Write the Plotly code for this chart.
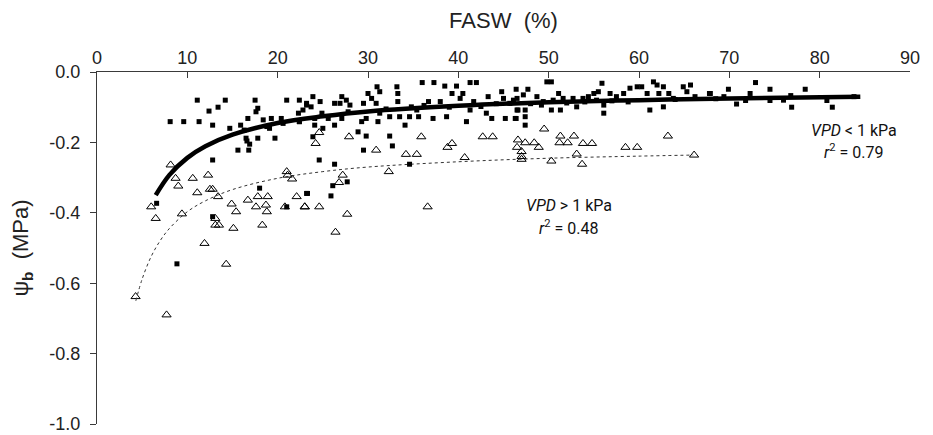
import plotly.graph_objects as go

# ---- data ----
# VPD < 1 kPa (filled squares)
low_x = [11.1, 14.2, 17.5, 21.0, 22.4, 23.2, 12.4, 13.4, 17.8, 17.6, 8.1, 9.6, 11.3, 12.8, 14.7,
         15.9, 16.7, 16.3, 16.5, 16.6, 16.9, 17.8, 18.4, 18.8, 19.3, 19.1, 19.7, 20.4, 20.6, 22.3,
         22.4, 15.6, 16.8, 12.8, 18.0, 23.2, 6.6, 21.0, 12.8, 8.85,
         23.9, 24.7, 23.2, 23.7, 22.8, 22.4, 24.1, 24.9, 24.1, 25.0, 26.3, 27.1, 26.9, 27.6, 28.0,
         25.6, 26.3, 27.1, 27.8, 29.3, 29.5, 29.8, 30.0, 30.4, 30.9, 31.0, 31.3, 31.1, 31.3, 33.2,
         33.3, 33.3, 32.4, 33.5, 34.1, 34.8, 35.4, 34.6, 35.6, 36.0, 37.3, 36.7, 37.2, 38.5, 39.8,
         38.7, 38.0, 39.3, 40.5, 40.2, 41.3, 42.0, 40.9, 41.7, 41.3, 43.3, 43.1, 43.7, 44.8, 45.0,
         45.2, 46.3, 45.7, 46.5, 46.6,
         28.9, 29.8, 32.4, 29.5, 32.7, 24.6, 26.3, 34.6, 26.1, 27.7, 23.3, 25.9, 23.9,
         49.8, 50.3, 46.4, 47.7, 46.1, 47.2, 48.7, 49.4, 50.5, 51.1, 51.6, 46.5, 47.4, 46.4, 47.4,
         47.4, 49.2, 50.3, 51.3, 53.1, 52.7, 53.8, 54.4, 55.0, 55.5, 55.9, 55.3, 56.1, 56.1, 56.8,
         57.5, 58.3, 59.0, 59.8, 60.3, 61.6, 62.0, 62.7, 61.2, 62.7, 60.9, 62.2, 63.3, 64.9, 65.7,
         65.3, 66.2, 67.9, 69.4, 63.8,
         67.8, 69.9, 70.8, 71.8, 72.3, 72.9, 74.5, 74.5, 76.0, 76.8, 76.9, 78.4, 80.8, 81.4, 83.8,
         32.0, 36.2, 39.0, 42.5, 44.2, 48.0, 52.0, 54.0, 57.0, 58.8, 64.0, 68.5]
low_y = [-0.080, -0.080, -0.080, -0.080, -0.080, -0.089, -0.111, -0.100, -0.103, -0.113, -0.141,
         -0.141, -0.141, -0.151, -0.160, -0.151, -0.132, -0.165, -0.188, -0.196, -0.205, -0.188,
         -0.136, -0.155, -0.132, -0.160, -0.188, -0.132, -0.146, -0.117, -0.141, -0.222, -0.222,
         -0.250, -0.330, -0.345, -0.373, -0.383, -0.411, -0.545,
         -0.070, -0.084, -0.094, -0.099, -0.108, -0.141, -0.132, -0.117, -0.151, -0.160, -0.089,
         -0.070, -0.089, -0.080, -0.094, -0.132, -0.151, -0.132, -0.113, -0.141, -0.089, -0.132,
         -0.061, -0.075, -0.089, -0.042, -0.056, -0.141, -0.117, -0.042, -0.061, -0.084, -0.127,
         -0.127, -0.151, -0.099, -0.108, -0.127, -0.127, -0.030, -0.030, -0.084, -0.132, -0.040,
         -0.040, -0.127, -0.084, -0.061, -0.061, -0.075, -0.030, -0.030, -0.141, -0.084, -0.108,
         -0.070, -0.117, -0.132, -0.056, -0.075, -0.132, -0.132, -0.089, -0.075, -0.108,
         -0.170, -0.182, -0.182, -0.222, -0.210, -0.250, -0.262, -0.262, -0.323, -0.312, -0.345,
         -0.352, -0.184,
         -0.028, -0.028, -0.049, -0.049, -0.080, -0.065, -0.070, -0.084, -0.080, -0.061, -0.075,
         -0.108, -0.108, -0.132, -0.127, -0.151, -0.094, -0.108, -0.108, -0.099, -0.075, -0.075,
         -0.070, -0.061, -0.056, -0.032, -0.080, -0.094, -0.117, -0.061, -0.070, -0.061, -0.046,
         -0.042, -0.042, -0.028, -0.037, -0.042, -0.108, -0.099, -0.061, -0.061, -0.061, -0.042,
         -0.037, -0.056, -0.070, -0.061, -0.070, -0.075,
         -0.061, -0.049, -0.091, -0.081, -0.061, -0.030, -0.049, -0.081, -0.080, -0.067, -0.100,
         -0.049, -0.081, -0.100, -0.070,
         -0.105, -0.095, -0.100, -0.098, -0.090, -0.090, -0.088, -0.085, -0.082, -0.085, -0.078,
         -0.076]

# VPD > 1 kPa (open triangles)
high_x = [8.15, 8.7, 9.0, 10.6, 12.3, 11.1, 12.5, 12.8, 13.4, 6.0, 6.5, 9.4, 13.1, 13.1, 13.5,
          14.9, 15.4, 15.1, 16.7, 17.8, 18.9, 17.6, 18.7, 18.8, 18.3, 21.0, 21.1, 21.6, 22.1,
          20.8, 23.0, 4.27, 7.7, 11.9, 14.3,
          24.6, 24.2, 27.9, 30.9, 35.9, 34.2, 35.4, 32.3, 38.8, 39.3, 40.7, 42.7, 43.8, 27.2,
          26.8, 23.0, 24.6, 27.7, 26.4, 36.6,
          49.5, 46.6, 47.4, 46.5, 48.4, 48.9, 47.0, 47.0, 47.0, 51.3, 52.8, 51.2, 52.1, 53.8,
          54.8, 50.3, 53.1, 53.7, 58.5, 59.8, 63.2, 66.1]
high_y = [-0.264, -0.302, -0.324, -0.302, -0.293, -0.343, -0.333, -0.333, -0.354, -0.383, -0.416,
          -0.403, -0.416, -0.435, -0.435, -0.375, -0.397, -0.444, -0.364, -0.354, -0.354, -0.383,
          -0.378, -0.397, -0.435, -0.283, -0.293, -0.304, -0.354, -0.383, -0.383, -0.638, -0.690,
          -0.487, -0.546,
          -0.172, -0.203, -0.184, -0.222, -0.184, -0.234, -0.234, -0.283, -0.214, -0.203, -0.243,
          -0.184, -0.184, -0.293, -0.314, -0.383, -0.383, -0.404, -0.455, -0.383,
          -0.162, -0.193, -0.201, -0.214, -0.201, -0.214, -0.226, -0.240, -0.248, -0.182, -0.182,
          -0.201, -0.201, -0.203, -0.203, -0.253, -0.233, -0.262, -0.214, -0.214, -0.182, -0.236]

# fitted curves
fit_low_x = [6.5, 8, 10, 12, 15, 20, 25, 30, 40, 50, 60, 70, 84.5]
fit_low_y = [-0.350, -0.293, -0.244, -0.211, -0.178, -0.145, -0.126, -0.112, -0.096, -0.086,
             -0.080, -0.075, -0.070]
fit_high_x = [4.3, 5, 6, 7, 8, 10, 12, 15, 20, 25, 30, 40, 50, 60, 66]
fit_high_y = [-0.650, -0.588, -0.524, -0.479, -0.445, -0.397, -0.366, -0.334, -0.302, -0.283,
              -0.270, -0.255, -0.245, -0.239, -0.236]

x_ticks = [0, 10, 20, 30, 40, 50, 60, 70, 80, 90]
y_ticks = [0.0, -0.2, -0.4, -0.6, -0.8, -1.0]
y_tick_labels = ["0.0", "-0.2", "-0.4", "-0.6", "-0.8", "-1.0"]

FONT = "Liberation Sans, Arial, sans-serif"
AX = "#3a3a3a"

fig = go.Figure()
fig.add_trace(go.Scatter(x=high_x, y=high_y, mode="markers",
                         marker=dict(symbol="triangle-up-open", size=8, color="black",
                                     line=dict(width=1, color="black")),
                         showlegend=False))
fig.add_trace(go.Scatter(x=fit_high_x, y=fit_high_y, mode="lines",
                         line=dict(color="#333333", width=1, dash="dot", shape="spline"),
                         showlegend=False))
fig.add_trace(go.Scatter(x=low_x, y=low_y, mode="markers",
                         marker=dict(symbol="square", size=5, color="black", line=dict(width=0)),
                         showlegend=False))
fig.add_trace(go.Scatter(x=fit_low_x, y=fit_low_y, mode="lines",
                         line=dict(color="black", width=4.5, shape="spline"),
                         showlegend=False))

ann_font = dict(family="Roboto, Liberation Sans, sans-serif", size=16, color="#111")
fig.add_annotation(x=83.8, y=-0.165, text="<i>VPD</i> < 1 kPa", showarrow=False, font=ann_font)
fig.add_annotation(x=83.8, y=-0.226, text="<i>r</i><sup>2</sup> = 0.79", showarrow=False, font=ann_font)
fig.add_annotation(x=52.2, y=-0.380, text="<i>VPD</i> > 1 kPa", showarrow=False, font=ann_font)
fig.add_annotation(x=52.2, y=-0.441, text="<i>r</i><sup>2</sup> = 0.48", showarrow=False, font=ann_font)

# page body has an 8px default margin: compensate so the plot area lands where the reference has it
fig.update_layout(
    width=925, height=427,
    margin=dict(l=89, r=23, t=64, b=11),
    paper_bgcolor="white", plot_bgcolor="white",
    font=dict(family=FONT, size=18, color="#222"),
    xaxis=dict(side="top", range=[0, 90], tickvals=x_ticks, ticks="inside", ticklen=6,
               tickcolor=AX, showline=True, linecolor=AX, linewidth=1, showgrid=False,
               zeroline=False, automargin=False, title=dict(text="FASW  (%)", standoff=15),
               tickfont=dict(size=18)),
    yaxis=dict(range=[-1.0, 0.0], tickvals=y_ticks, ticktext=y_tick_labels, ticks="outside",
               ticklen=6, tickcolor=AX, showline=True, linecolor=AX, linewidth=1,
               showgrid=False, zeroline=False, automargin=False, ticklabelstandoff=6,
               title=dict(text="ψ<sub><b>b</b></sub>  (MPa)", standoff=18),
               tickfont=dict(size=18)),
)

fig.write_html("out.html")
